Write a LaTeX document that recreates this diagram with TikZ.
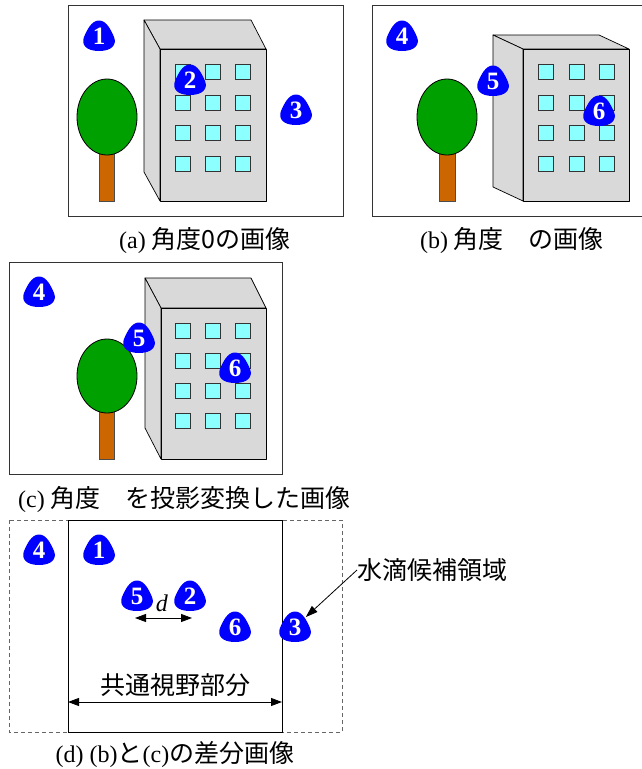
\documentclass[tikz,border=0pt]{standalone}
\usepackage{fontspec}
\setmainfont{Liberation Serif}
\newfontfamily\jpfont{Noto Sans CJK JP}
\usetikzlibrary{arrows.meta}
\definecolor{DropBlue}  {HTML}{0000FF}
\definecolor{WallGrey}  {HTML}{D9D9D9}
\definecolor{PaneCyan}  {HTML}{8CFFFF}
\definecolor{LeafGreen} {HTML}{00A000}
\definecolor{TrunkBrown}{HTML}{CC6600}
\definecolor{FrameGrey} {HTML}{333333}
\definecolor{DashGrey}  {HTML}{666666}

\tikzset{
  frame/.style={draw=FrameGrey, line width=0.9pt},
  wall/.style={draw=black, fill=WallGrey, line width=0.7pt, line join=round},
  pane/.style={draw=black!80, fill=PaneCyan, line width=0.7pt},
  leaves/.style={draw=black, fill=LeafGreen, line width=0.8pt},
  trunk/.style={draw=black!70, fill=TrunkBrown, line width=0.5pt},
  dropnum/.style={circle, minimum size=29pt, inner sep=0pt, text=white,
                  font=\fontsize{25}{25}\selectfont\bfseries},
  caption/.style={font=\fontsize{24}{28}\selectfont, inner sep=0pt},
  jplabel/.style={font=\fontsize{25}{28}\selectfont\jpfont, inner sep=0pt},
  dim/.style={{Triangle[length=11pt,width=8pt]}-{Triangle[length=11pt,width=8pt]}, line width=0.8pt},
}

% water drop: name, centre, number
\newcommand{\waterdrop}[3]{%
  \fill[DropBlue, shift={(#2)}]
    (0,-15.5) .. controls (7.5,-15.5) and (12,-6) .. (15,1)
              .. controls (18,8.5) and (13,15) .. (0,15)
              .. controls (-13,15) and (-18,8.5) .. (-15,1)
              .. controls (-12,-6) and (-7.5,-15.5) .. (0,-15.5) -- cycle;
  \node[dropnum] (#1) at (#2) {#3};
}

\begin{document}
\begin{tikzpicture}[x=1pt, y=-1pt]
  \useasboundingbox (0,0) rectangle (641,769);

  % ===== (a) ANGLE 0 =====
  \draw[frame] (68,5) rectangle (343,216);
  \draw[trunk] (99,150) rectangle (114,201);
  \draw[leaves] (107,117) ellipse (30 and 38);
  \draw[wall] (144,20) -- (251,20) -- (266,49) -- (160,49) -- cycle;
  \draw[wall] (144,20) -- (160,49) -- (160,201) -- (144,172) -- cycle;
  \draw[wall] (160,49) rectangle (266,201);
  \foreach \cx in {183,213,243}
    \foreach \cy in {72,103,133,164}
      \draw[pane] (\cx-7.5,\cy-7.5) rectangle (\cx+7.5,\cy+7.5);
  \waterdrop{a1}{99,36}{1}
  \waterdrop{a2}{190,80}{2}
  \waterdrop{a3}{296,110}{3}
  \node[caption] (capA) at (205,241) {(a) {\jpfont\fontsize{25}{28}\selectfont 角度0の画像}};

  % ===== (b) SECOND ANGLE =====
  \draw[frame] (372,5) rectangle (645,216);
  \draw[trunk] (439,150) rectangle (455,201);
  \draw[leaves] (447,117) ellipse (30 and 38);
  \draw[wall] (493,35) -- (599,35) -- (629,49) -- (523,49) -- cycle;
  \draw[wall] (493,35) -- (523,49) -- (523,201) -- (493,187) -- cycle;
  \draw[wall] (523,49) rectangle (629,201);
  \foreach \cx in {546,577,607}
    \foreach \cy in {72,103,133,164}
      \draw[pane] (\cx-7.5,\cy-7.5) rectangle (\cx+7.5,\cy+7.5);
  \waterdrop{b4}{402,36}{4}
  \waterdrop{b5}{493,81}{5}
  \waterdrop{b6}{599,111}{6}
  \node[caption] (capB) at (512,241) {(b) {\jpfont\fontsize{25}{28}\selectfont 角度　の画像}};

  % ===== (c) PROJECTED =====
  \draw[frame] (9,262) rectangle (282,474);
  \draw[trunk] (99,410) rectangle (114,459);
  \draw[leaves] (107,376) ellipse (30 and 37);
  \draw[wall] (145,278) -- (251,278) -- (266,308) -- (161,308) -- cycle;
  \draw[wall] (145,278) -- (161,308) -- (161,459) -- (145,428) -- cycle;
  \draw[wall] (161,308) rectangle (266,459);
  \foreach \cx in {183,213,243}
    \foreach \cy in {331,361,391,421}
      \draw[pane] (\cx-7.5,\cy-7.5) rectangle (\cx+7.5,\cy+7.5);
  \waterdrop{c4}{39,292}{4}
  \waterdrop{c5}{139,338}{5}
  \waterdrop{c6}{235,368}{6}
  \node[caption, anchor=west] (capC) at (18,500) {(c) {\jpfont\fontsize{25}{28}\selectfont 角度　を投影変換した画像}};

  % ===== (d) DIFFERENCE =====
  \draw[dashed, dash pattern=on 4pt off 3pt, DashGrey, line width=0.8pt] (9,520) rectangle (342,732);
  \draw[black, line width=0.8pt] (68,520) rectangle (282,732);
  \waterdrop{d4}{39,550}{4}
  \waterdrop{d1}{99,550}{1}
  \waterdrop{d5}{137,596}{5}
  \waterdrop{d2}{190,596}{2}
  \waterdrop{d6}{235,627}{6}
  \waterdrop{d3}{295,627}{3}
  % shift d between 5 and 2
  \coordinate (dL) at (135,618);
  \coordinate (dR) at (192,618);
  \draw[dim] (dL) -- (dR);
  \node[caption] (dlab) at (162,603) {\textit{d}};
  % common field of view
  \coordinate (vL) at (68,702);
  \coordinate (vR) at (282,702);
  \draw[dim] (vL) -- (vR);
  \node[jplabel] (view) at (175,685) {共通視野部分};
  % candidate label
  \node[jplabel, anchor=west] (cand) at (357,570) {水滴候補領域};
  \draw[-{Triangle[length=12pt,width=8pt]}, line width=0.8pt] (cand.west) -- (d3);
  \node[caption] (capD) at (175,755) {(d) (b){\jpfont\fontsize{25}{28}\selectfont と}(c){\jpfont\fontsize{25}{28}\selectfont の差分画像}};

\end{tikzpicture}
\end{document}
